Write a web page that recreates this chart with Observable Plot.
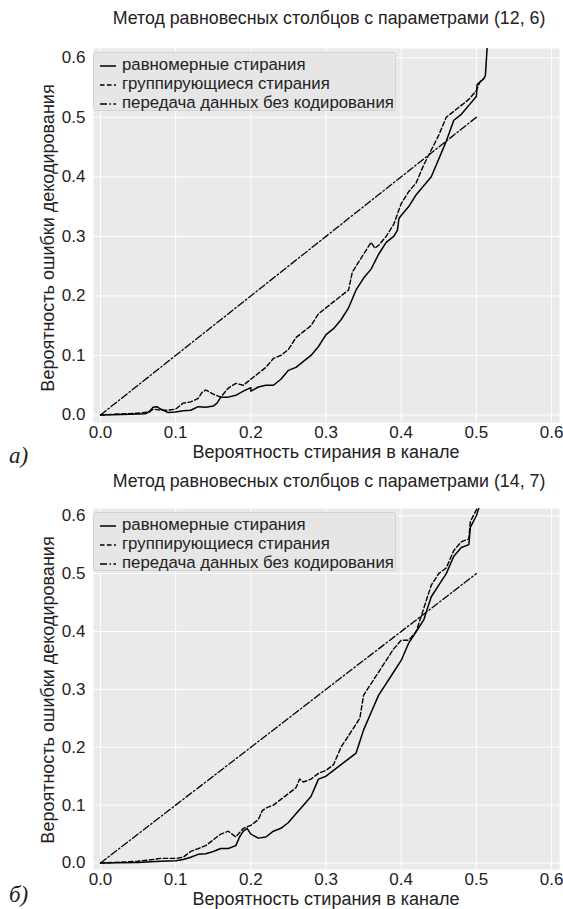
<!DOCTYPE html>
<html><head><meta charset="utf-8">
<script src="https://cdn.jsdelivr.net/npm/d3@7"></script>
<script src="https://cdn.jsdelivr.net/npm/@observablehq/plot@0.6"></script>
<style>
body{margin:0;background:#fff;font-family:"Liberation Sans",Arial,sans-serif;color:#222}
#root{position:relative;width:563px;height:909px;overflow:hidden}
.abs{position:absolute;white-space:nowrap}
.title{font-size:17.8px;transform:translateX(-50%)}
.xt{font-size:18px;transform:translateX(-50%)}
.yt{font-size:18px;transform:translate(-50%,-50%) rotate(-90deg)}
.tag{font-family:"Liberation Serif","Times New Roman",serif;font-style:italic;font-size:23px}
.legend{background:#e6e6e6;border:1px solid #d2d2d2;border-radius:3px;font-size:16.8px;padding:0 0 0 6px;box-sizing:border-box}
.legend .row{display:flex;align-items:center;height:19px}
.legend svg{margin-right:6px}
</style>
</head><body><div id="root"></div>
<script>
// ticks
const xTicks = [0, 0.1, 0.2, 0.3, 0.4, 0.5, 0.6];
const yTicks = [0, 0.1, 0.2, 0.3, 0.4, 0.5, 0.6];

const titleA = "Метод равновесных столбцов с параметрами (12, 6)";
const titleB = "Метод равновесных столбцов с параметрами (14, 7)";
const xLabel = "Вероятность стирания в канале";
const yLabel = "Вероятность ошибки декодирования";
const seriesNames = ["равномерные стирания", "группирующиеся стирания", "передача данных без кодирования"];

// Panel A (12, 6)
const aUniformX = [0,0.03,0.06,0.065,0.07,0.075,0.08,0.09,0.1,0.11,0.12,0.13,0.14,0.15,0.155,0.16,0.17,0.18,0.19,0.2,0.2,0.21,0.22,0.23,0.24,0.25,0.26,0.27,0.28,0.29,0.3,0.31,0.32,0.33,0.34,0.35,0.36,0.37,0.38,0.39,0.395,0.397,0.4,0.41,0.42,0.43,0.44,0.45,0.46,0.47,0.48,0.49,0.5,0.501,0.51,0.512,0.515];
const aUniformY = [0,0.001,0.002,0.006,0.013,0.014,0.01,0.004,0.005,0.007,0.008,0.014,0.013,0.015,0.02,0.03,0.03,0.033,0.04,0.046,0.04,0.047,0.05,0.05,0.06,0.075,0.08,0.09,0.1,0.115,0.135,0.145,0.16,0.18,0.21,0.23,0.245,0.27,0.29,0.3,0.31,0.33,0.335,0.35,0.37,0.385,0.4,0.43,0.46,0.495,0.505,0.52,0.535,0.555,0.565,0.57,0.63];
const aGroupX = [0,0.03,0.05,0.065,0.07,0.08,0.09,0.1,0.11,0.12,0.13,0.135,0.14,0.15,0.16,0.17,0.18,0.19,0.2,0.21,0.22,0.23,0.24,0.25,0.26,0.27,0.28,0.29,0.3,0.31,0.32,0.33,0.335,0.34,0.35,0.36,0.365,0.37,0.38,0.39,0.4,0.41,0.42,0.43,0.44,0.45,0.46,0.47,0.48,0.49,0.5,0.505,0.51];
const aGroupY = [0,0.002,0.003,0.005,0.01,0.008,0.008,0.01,0.02,0.022,0.028,0.038,0.042,0.035,0.03,0.045,0.053,0.05,0.06,0.07,0.08,0.095,0.1,0.11,0.13,0.14,0.15,0.17,0.18,0.19,0.2,0.21,0.24,0.25,0.27,0.29,0.28,0.285,0.3,0.32,0.355,0.375,0.39,0.42,0.445,0.47,0.5,0.51,0.52,0.53,0.545,0.56,0.565];

// Panel B (14, 7)
const bUniformX = [0,0.05,0.08,0.1,0.11,0.12,0.13,0.14,0.15,0.16,0.17,0.18,0.185,0.19,0.195,0.2,0.21,0.22,0.23,0.24,0.25,0.26,0.27,0.28,0.29,0.3,0.31,0.32,0.33,0.34,0.345,0.35,0.36,0.37,0.38,0.39,0.4,0.41,0.42,0.43,0.435,0.44,0.45,0.46,0.47,0.48,0.49,0.492,0.5,0.505];
const bUniformY = [0,0.001,0.003,0.004,0.006,0.01,0.015,0.016,0.02,0.025,0.025,0.03,0.045,0.055,0.06,0.05,0.043,0.045,0.055,0.06,0.07,0.085,0.1,0.115,0.145,0.15,0.16,0.17,0.18,0.19,0.21,0.23,0.26,0.29,0.31,0.33,0.35,0.38,0.4,0.42,0.44,0.46,0.48,0.5,0.53,0.545,0.55,0.58,0.6,0.62];
const bGroupX = [0,0.05,0.07,0.08,0.1,0.11,0.12,0.13,0.14,0.15,0.16,0.17,0.18,0.19,0.2,0.21,0.215,0.22,0.23,0.24,0.25,0.26,0.265,0.27,0.28,0.29,0.3,0.31,0.32,0.33,0.34,0.345,0.35,0.36,0.37,0.38,0.39,0.4,0.41,0.42,0.43,0.44,0.45,0.46,0.47,0.48,0.49,0.492,0.5,0.503];
const bGroupY = [0,0.003,0.006,0.008,0.008,0.01,0.02,0.025,0.03,0.04,0.05,0.055,0.045,0.06,0.065,0.075,0.09,0.095,0.1,0.11,0.12,0.13,0.145,0.14,0.145,0.155,0.16,0.17,0.2,0.22,0.24,0.25,0.29,0.31,0.33,0.35,0.37,0.385,0.385,0.4,0.44,0.48,0.5,0.51,0.54,0.555,0.56,0.59,0.61,0.62];

// Uncoded transmission (both panels)
const uncodedX = [0, 0.5];
const uncodedY = [0, 0.5];

const root = document.getElementById("root");
const fmt = d3.format(".1f");
const pts = (xs, ys) => xs.map((x, i) => ({x, y: ys[i]}));

function addText(cls, text, left, top) {
  const d = document.createElement("div");
  d.className = "abs " + cls;
  d.textContent = text;
  d.style.left = left + "px";
  d.style.top = top + "px";
  root.appendChild(d);
  return d;
}

function addLegend(left, top) {
  const box = document.createElement("div");
  box.className = "abs legend";
  box.style.left = left + "px";
  box.style.top = top + "px";
  box.style.width = "303px";
  box.style.height = "59px";
  box.style.paddingTop = "2px";
  const dashes = [null, "4.5,2.5", "7,2.5,1.5,2.5"];
  seriesNames.forEach((name, i) => {
    const row = document.createElement("div");
    row.className = "row";
    const ns = "http://www.w3.org/2000/svg";
    const s = document.createElementNS(ns, "svg");
    s.setAttribute("width", 16); s.setAttribute("height", 10);
    const l = document.createElementNS(ns, "line");
    l.setAttribute("x1", 0); l.setAttribute("x2", 16);
    l.setAttribute("y1", 6); l.setAttribute("y2", 6);
    l.setAttribute("stroke", "#000"); l.setAttribute("stroke-width", 1.5);
    if (dashes[i]) l.setAttribute("stroke-dasharray", dashes[i]);
    s.appendChild(l);
    row.appendChild(s);
    const t = document.createElement("span");
    t.textContent = name;
    row.appendChild(t);
    box.appendChild(row);
  });
  root.appendChild(box);
}

function panel(opts) {
  const {top, height, marginTop, marginBottom, yDomain, uniform, group} = opts;
  const chart = Plot.plot({
    width: 563, height,
    marginTop, marginBottom, marginLeft: 93, marginRight: 4,
    x: {domain: [-0.0093, 0.6106]},
    y: {domain: yDomain},
    style: {fontFamily: '"Liberation Sans",Arial,sans-serif', fontSize: "17px", color: "#222", background: "transparent", overflow: "visible"},
    marks: [
      Plot.frame({fill: "#eaeaea", stroke: null}),
      Plot.gridX(xTicks, {stroke: "#fff", strokeOpacity: 1, strokeWidth: 1}),
      Plot.gridY(yTicks, {stroke: "#fff", strokeOpacity: 1, strokeWidth: 1}),
      Plot.axisX(xTicks, {tickSize: 0, tickPadding: 3, tickFormat: fmt, label: null, fill: "#222"}),
      Plot.axisY(yTicks, {tickSize: 0, tickPadding: 8, tickFormat: fmt, label: null, fill: "#222"}),
      Plot.line(pts(uncodedX, uncodedY), {x: "x", y: "y", stroke: "#000", strokeWidth: 1.3, strokeDasharray: "7,2.5,1.5,2.5", clip: true}),
      Plot.line(group, {x: "x", y: "y", stroke: "#000", strokeWidth: 1.4, strokeDasharray: "4.5,2.5", clip: true}),
      Plot.line(uniform, {x: "x", y: "y", stroke: "#000", strokeWidth: 1.5, clip: true})
    ]
  });
  chart.style.position = "absolute";
  chart.style.left = "0px";
  chart.style.top = top + "px";
  root.appendChild(chart);
}

// Panel A
panel({top: 0, height: 460, marginTop: 48, marginBottom: 38, yDomain: [-0.0126, 0.6155],
  uniform: pts(aUniformX, aUniformY), group: pts(aGroupX, aGroupY)});
addText("title", titleA, 329, 8);
addText("xt", xLabel, 326, 442);
addText("yt", yLabel, 48, 238);
addText("tag", "а)", 9, 443);
addLegend(93, 52);

// Panel B
panel({top: 460, height: 449, marginTop: 48, marginBottom: 40, yDomain: [-0.0112, 0.6125],
  uniform: pts(bUniformX, bUniformY), group: pts(bGroupX, bGroupY)});
addText("title", titleB, 329, 471);
addText("xt", xLabel, 326, 889);
addText("yt", yLabel, 48, 690);
addText("tag", "б)", 9, 882);
addLegend(93, 512);
</script>
</body></html>
